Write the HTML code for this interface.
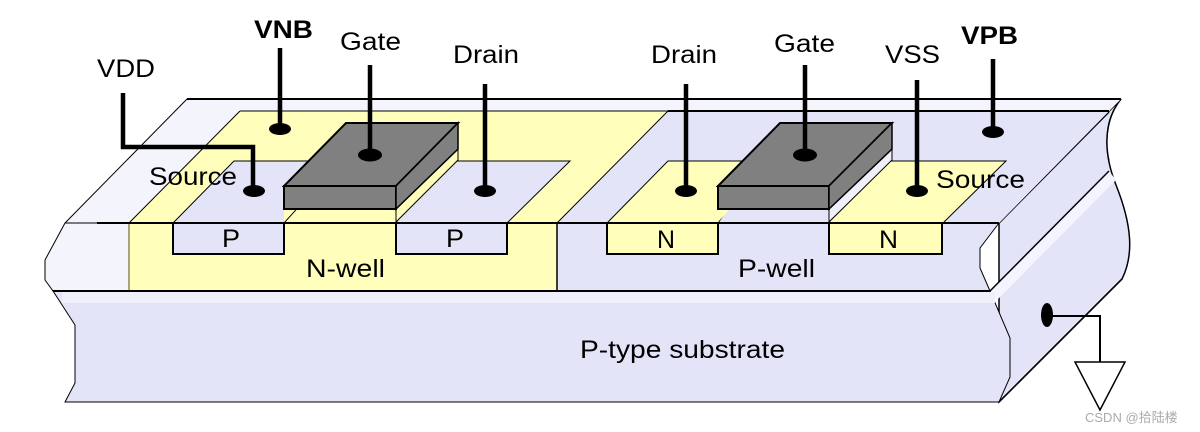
<!DOCTYPE html>
<html><head><meta charset="utf-8"><style>
html,body{margin:0;padding:0;background:#fff;}
svg{display:block;}
text{font-family:"Liberation Sans",Arial,sans-serif;font-size:25px;fill:#000;}
</style></head><body>
<svg width="1200" height="432" viewBox="0 0 1200 432" xmlns="http://www.w3.org/2000/svg">
<!-- right side face -->
<path d="M999,223 L1121,99 C1100,125 1106,160 1116,185 C1132,225 1134,255 1122,279 L999,402 Z" fill="#e4e4f8" stroke="#000" stroke-width="1.5"/>
<path d="M990,291 L1109,171 L1116,180 L997,300 Z" fill="#f4f4fe"/>
<path d="M999,223 L1109,112 M990,291 L1109,171" stroke="#000" stroke-width="1.5" fill="none"/>
<path d="M1121,99 C1108,115 1104,140 1109,160" stroke="#000" stroke-width="1" fill="none"/>
<!-- top surface whitish -->
<path d="M187,99 L1121,99 L999,223 L65,223 Z" fill="#f4f4fc"/>
<path d="M668,111 L1109,111 L999,223 L557,223 Z" fill="#e4e4f8"/>
<path d="M240,111 L668,111 L557,223 L129,223 Z" fill="#ffffbb"/>
<line x1="187" y1="99" x2="1121" y2="99" stroke="#000" stroke-width="2"/>
<line x1="668" y1="111" x2="1109" y2="111" stroke="#000" stroke-width="2"/>
<line x1="240" y1="111" x2="668" y2="111" stroke="#000" stroke-width="1"/>
<path d="M187,99 L65,223 M240,111 L129,223 M668,111 L557,223" stroke="#000" stroke-width="1" fill="none"/>
<path d="M234,161 L340,161 L284,223 L173,223 Z" fill="#e4e4f8" stroke="#000" stroke-width="1"/>
<path d="M430,161 L570,161 L507,223 L396,223 Z" fill="#e4e4f8" stroke="#000" stroke-width="1"/>
<path d="M668,161 L760,161 L718,223 L607,223 Z" fill="#ffffbb" stroke="#000" stroke-width="1"/>
<path d="M860,161 L1006,161 L943,223 L829,223 Z" fill="#ffffbb" stroke="#000" stroke-width="1"/>
<path d="M284,209 L296,209 L284,222 Z" fill="#ffffbb"/>
<path d="M396,209 L458,149 L458,160 L396,222 Z" fill="#ffffbb" stroke="#000" stroke-width="1"/>
<path d="M718,209 L730,209 L718,222 Z" fill="#ffffbb"/>
<path d="M829,209 L892,149 L892,160 L829,222 Z" fill="#f0f0fc" stroke="#000" stroke-width="1"/>
<path d="M346,123 L458,123 L396,186 L284,186 Z" fill="#808080" stroke="#000" stroke-width="2"/>
<path d="M284,186 L396,186 L396,209 L284,209 Z" fill="#808080" stroke="#000" stroke-width="2"/>
<path d="M396,186 L458,123 L458,149 L396,209 Z" fill="#808080" stroke="#000" stroke-width="1.5"/>
<path d="M780,123 L892,123 L829,186 L718,186 Z" fill="#808080" stroke="#000" stroke-width="2"/>
<path d="M718,186 L829,186 L829,209 L718,209 Z" fill="#808080" stroke="#000" stroke-width="2"/>
<path d="M829,186 L892,123 L892,149 L829,209 Z" fill="#808080" stroke="#000" stroke-width="1.5"/>
<path d="M65,223 L129,223 L129,291 L53,291 L45,280 L45,260 Z" fill="#f4f4fc" stroke="#000" stroke-width="1"/>
<rect x="129" y="223" width="428" height="68" fill="#ffffbb" stroke="#555500" stroke-width="1"/>
<path d="M557,223 L999,223 L980,248 L980,268 L990,291 L557,291 Z" fill="#e4e4f8"/>
<path d="M999,223 L980,248 L980,268 L990,291" stroke="#000" stroke-width="1" fill="none"/>
<line x1="557" y1="223" x2="557" y2="291" stroke="#000" stroke-width="1.5"/>
<line x1="97" y1="223" x2="999" y2="223" stroke="#000" stroke-width="2"/>
<rect x="173" y="223" width="111" height="31" fill="#e4e4f8" stroke="#000" stroke-width="2"/>
<rect x="396" y="223" width="111" height="31" fill="#e4e4f8" stroke="#000" stroke-width="2"/>
<rect x="607" y="223" width="111" height="31" fill="#ffffbb" stroke="#000" stroke-width="2"/>
<rect x="829" y="223" width="113" height="31" fill="#ffffbb" stroke="#000" stroke-width="2"/>
<path d="M53,291 L990,291 L1010,338 L1010,377 L999,402 L65,402 L75,383 L75,325 Z" fill="#e4e4f8" stroke="#000" stroke-width="1"/>
<rect x="62" y="292" width="933" height="11" fill="#f0f0fc"/>
<line x1="53" y1="291" x2="990" y2="291" stroke="#000" stroke-width="2"/>
<line x1="999" y1="402" x2="1122" y2="279" stroke="#000" stroke-width="1.5"/>
<g stroke="#000" stroke-width="4.5" fill="none">
<path d="M123,93 L123,147 L253,147 L253,190"/>
<line x1="280" y1="48" x2="280" y2="128"/>
<line x1="370" y1="65" x2="370" y2="154"/>
<line x1="485" y1="84" x2="485" y2="190"/>
<line x1="686" y1="84" x2="686" y2="190"/>
<line x1="805" y1="65" x2="805" y2="154"/>
<line x1="917" y1="80" x2="917" y2="190"/>
<line x1="993" y1="59" x2="993" y2="131"/>
</g>
<g fill="#000">
<ellipse cx="254" cy="191" rx="11" ry="6"/>
<ellipse cx="280" cy="129" rx="11" ry="6"/>
<ellipse cx="370" cy="155" rx="12" ry="6.5"/>
<ellipse cx="485" cy="191" rx="11" ry="6"/>
<ellipse cx="686" cy="191" rx="11" ry="6"/>
<ellipse cx="805" cy="155" rx="12" ry="6.5"/>
<ellipse cx="917" cy="191" rx="11" ry="6"/>
<ellipse cx="993" cy="132" rx="11" ry="6"/>
<ellipse cx="1047" cy="315" rx="6" ry="12"/>
</g>
<path d="M1047,316 L1100,316 L1100,362" stroke="#000" stroke-width="2" fill="none"/>
<path d="M1075,362 L1125,362 L1100,410 Z" fill="#fff" stroke="#000" stroke-width="1.5"/>
<g>
<text x="97" y="77" textLength="58" lengthAdjust="spacingAndGlyphs">VDD</text>
<text x="254" y="38" font-weight="bold" textLength="59" lengthAdjust="spacingAndGlyphs">VNB</text>
<text x="340" y="50" textLength="61" lengthAdjust="spacingAndGlyphs">Gate</text>
<text x="453" y="63" textLength="66" lengthAdjust="spacingAndGlyphs">Drain</text>
<text x="651" y="63" textLength="66" lengthAdjust="spacingAndGlyphs">Drain</text>
<text x="774" y="52" textLength="61" lengthAdjust="spacingAndGlyphs">Gate</text>
<text x="885" y="63" textLength="55" lengthAdjust="spacingAndGlyphs">VSS</text>
<text x="961" y="44" font-weight="bold" textLength="57" lengthAdjust="spacingAndGlyphs">VPB</text>
<text x="149" y="185" textLength="88" lengthAdjust="spacingAndGlyphs">Source</text>
<text x="936" y="188" textLength="89" lengthAdjust="spacingAndGlyphs">Source</text>
<text x="222" y="247" textLength="18" lengthAdjust="spacingAndGlyphs">P</text>
<text x="446" y="247" textLength="18" lengthAdjust="spacingAndGlyphs">P</text>
<text x="657" y="248" font-size="22" textLength="18" lengthAdjust="spacingAndGlyphs">N</text>
<text x="879" y="248" textLength="19" lengthAdjust="spacingAndGlyphs">N</text>
<text x="306" y="277" textLength="79" lengthAdjust="spacingAndGlyphs">N-well</text>
<text x="738" y="277" textLength="77" lengthAdjust="spacingAndGlyphs">P-well</text>
<text x="580" y="358" textLength="205" lengthAdjust="spacingAndGlyphs">P-type substrate</text>
</g>
<text x="1085" y="422" style="font-family:'Liberation Sans','Noto Sans CJK SC',sans-serif;font-size:13px;fill:#aaa">CSDN @拾陆楼</text>
</svg>
</body></html>
